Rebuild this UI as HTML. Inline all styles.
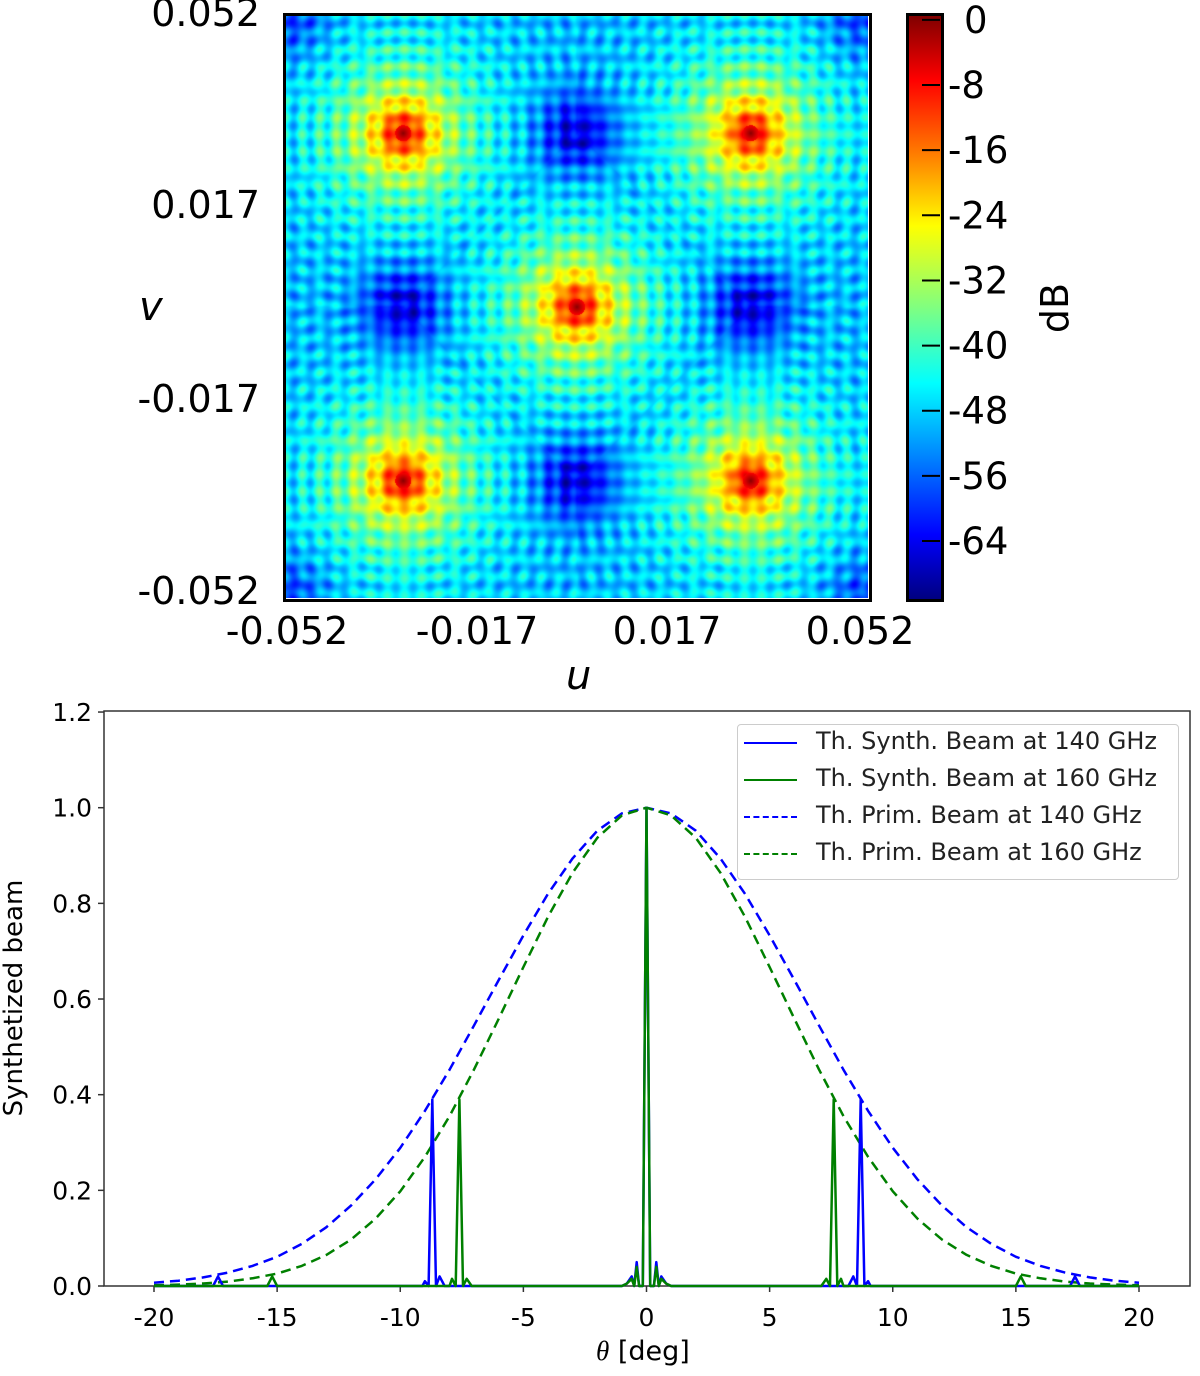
<!DOCTYPE html>
<html><head><meta charset="utf-8">
<style>
body{margin:0;background:#fff;}
#root{position:relative;width:1200px;height:1376px;overflow:hidden;font-family:"DejaVu Sans","Liberation Sans",sans-serif;}
.t{position:absolute;white-space:nowrap;color:#000;}
</style></head>
<body>
<div id="root">
<canvas id="hm" width="583" height="583" style="position:absolute;left:285px;top:15px;"></canvas>
<div style="position:absolute;left:283px;top:13px;width:583px;height:583px;border:3px solid #000;"></div>
<div style="position:absolute;left:906px;top:13px;width:32px;height:583px;border:3px solid #000;background:linear-gradient(to bottom,#800000 0%,#ff0000 11%,#ff8000 24%,#ffff00 36%,#80ff80 50%,#00ffff 63%,#0080ff 76%,#0000ff 89%,#000080 100%);"></div>
<svg id="topsvg" width="1200" height="700" style="position:absolute;left:0;top:0"></svg>
<div class="t" style="left:100px;top:-9px;font-size:38px;width:160px;text-align:right">0.052</div>
<div class="t" style="left:100px;top:183px;font-size:38px;width:160px;text-align:right">0.017</div>
<div class="t" style="left:100px;top:377px;font-size:38px;width:160px;text-align:right">-0.017</div>
<div class="t" style="left:100px;top:569px;font-size:38px;width:160px;text-align:right">-0.052</div>
<div class="t" style="left:202px;top:609px;font-size:38px;width:170px;text-align:center">-0.052</div>
<div class="t" style="left:392px;top:609px;font-size:38px;width:170px;text-align:center">-0.017</div>
<div class="t" style="left:582px;top:609px;font-size:38px;width:170px;text-align:center">0.017</div>
<div class="t" style="left:775px;top:609px;font-size:38px;width:170px;text-align:center">0.052</div>
<div class="t" style="left:566px;top:653px;font-size:40px;font-style:italic">u</div>
<div class="t" style="left:139px;top:284px;font-size:40px;font-style:italic">v</div>
<div class="t" style="left:1030px;top:286px;font-size:38px;transform:rotate(-90deg);transform-origin:center">dB</div>
<svg id="bot" width="1200" height="676" style="position:absolute;left:0;top:700px"></svg>
<div class="t" style="left:-106px;top:983px;font-size:26px;transform:rotate(-90deg);width:240px;text-align:center">Synthetized beam</div>
<div class="t" style="left:596px;top:1336px;font-size:27px"><i style="font-family:'Liberation Serif',serif">θ</i> [deg]</div>
<div style="position:absolute;left:737px;top:724px;width:440px;height:154px;border:1px solid #ccc;border-radius:4px;background:#fff;">
 <div style="position:absolute;left:6px;top:17px;width:53px;height:0;border-top:2.5px solid #0000ff"></div>
 <div class="t" style="left:78px;top:2px;font-size:24px;color:#222">Th. Synth. Beam at 140 GHz</div>
 <div style="position:absolute;left:6px;top:54px;width:53px;height:0;border-top:2.5px solid #008000"></div>
 <div class="t" style="left:78px;top:39px;font-size:24px;color:#222">Th. Synth. Beam at 160 GHz</div>
 <div style="position:absolute;left:6px;top:91px;width:53px;height:0;border-top:2.5px dashed #0000ff"></div>
 <div class="t" style="left:78px;top:76px;font-size:24px;color:#222">Th. Prim. Beam at 140 GHz</div>
 <div style="position:absolute;left:6px;top:128px;width:53px;height:0;border-top:2.5px dashed #008000"></div>
 <div class="t" style="left:78px;top:113px;font-size:24px;color:#222">Th. Prim. Beam at 160 GHz</div>
</div>
</div>
<script>
// ---------- data ----------
const cbTicks = [0,-8,-16,-24,-32,-40,-48,-56,-64];
const peakU = [-0.031,0.031,0,-0.031,0.031];
const peakV = [0.031,0.031,0,-0.031,-0.031];
const nullU = [0,-0.031,0.031,0];
const nullV = [0.031,0,0,-0.031];
const xTicks = [-20,-15,-10,-5,0,5,10,15,20];
const yTicks = [0.0,0.2,0.4,0.6,0.8,1.0,1.2];
const primTheta = [0,1,2,3,4,5,6,7,8,9,10,11,12,13,14,15,16,17,18,19,20];
const prim140 = [1,0.988,0.952,0.894,0.82,0.733,0.64,0.545,0.452,0.366,0.289,0.223,0.168,0.123,0.088,0.061,0.042,0.028,0.018,0.011,0.007];
const prim160 = [1,0.984,0.937,0.864,0.772,0.667,0.559,0.453,0.355,0.27,0.198,0.141,0.097,0.065,0.042,0.026,0.016,0.0093,0.0053,0.0029,0.0015];
const synthTheta140 = [0,0.15,0.3,0.4,0.5,0.6,0.8,1.0,8.2,8.4,8.55,8.7,8.85,9.0,9.1,9.2,17.2,17.4,17.6,20];
const synth140 = [1.0,0.0,0.0,0.05,0.0,0.02,0.005,0,0,0.02,0,0.39,0,0.01,0,0,0,0.02,0,0];
const synthTheta160 = [0,0.15,0.3,0.4,0.5,0.6,0.8,1.0,7.1,7.3,7.45,7.6,7.75,7.9,8.0,8.1,15.0,15.2,15.4,20];
const synth160 = [1.0,0.0,0.0,0.04,0.0,0.015,0.005,0,0,0.015,0,0.39,0,0.015,0,0,0,0.02,0,0];

// ---------- heatmap ----------
function jet(t){t=Math.max(0,Math.min(1,t));
 const r=Math.max(0,Math.min(1,1.5-Math.abs(4*t-3))),g=Math.max(0,Math.min(1,1.5-Math.abs(4*t-2))),b=Math.max(0,Math.min(1,1.5-Math.abs(4*t-1)));
 return [r*255,g*255,b*255];}
const W=583, umin=-0.052, umax=0.052;
const ux=u=>(u-umin)/(umax-umin)*W, vy=v=>(umax-v)/(umax-umin)*W;
const cv=document.getElementById('hm'),ctx=cv.getContext('2d'),img=ctx.createImageData(W,W);
const pxs=peakU.map(ux), pys=peakV.map(vy), nxs=nullU.map(ux), nys=nullV.map(vy);
for(let y=0;y<W;y++)for(let x=0;x<W;x++){
 let dmin=1e9;
 for(let k=0;k<pxs.length;k++){const d=Math.hypot(x-pxs[k],y-pys[k]);if(d<dmin)dmin=d;}
 let db=-48*(1-Math.exp(-dmin/45));
 let dark=0;
 for(let k=0;k<nxs.length;k++){const d=Math.hypot(x-nxs[k],y-nys[k]);dark+=Math.exp(-d*d/(2*28*28));}
 [[0,0],[W,0],[0,W],[W,W]].forEach(c=>{const d=Math.hypot(x-c[0],y-c[1]);dark+=0.6*Math.exp(-d*d/(2*30*30));});
 db-=16*dark;
 const tex=Math.cos(2*Math.PI*x/17)+Math.cos(2*Math.PI*y/17);
 const ring=Math.cos(2*Math.PI*dmin/17);
 if(dmin>8) db+=2.8*tex+2*ring-1.5;
 const t=(db+71)/71.6;const c=jet(t);const i=(y*W+x)*4;
 img.data[i]=c[0];img.data[i+1]=c[1];img.data[i+2]=c[2];img.data[i+3]=255;}
ctx.putImageData(img,0,0);

const NS='http://www.w3.org/2000/svg';
function mk(svg,tag,at){const e=document.createElementNS(NS,tag);for(const k in at)e.setAttribute(k,at[k]);svg.appendChild(e);return e;}
const topSvg=document.getElementById('topsvg');
const cbY=d=>15+(0.6-d)/71.6*583;
cbTicks.forEach(d=>{
 const y=cbY(d);
 const l=mk(topSvg,'line',{x1:922,x2:940,y1:y,y2:y,stroke:'#000','stroke-width':2});
 
 
 const t=mk(topSvg,'text',{x:d===0?964:948,y:y+13,'font-size':37,'font-family':'DejaVu Sans, Liberation Sans, sans-serif'});
 t.textContent=String(d);
 
 
});

// ---------- line chart ----------
const bot=document.getElementById('bot');
const X=th=>154+(th+20)*24.625, Y=v=>586-v*478.3;
mk(bot,'rect',{x:104,y:11,width:1086,height:575,fill:'none',stroke:'#333','stroke-width':1.5});
const F='DejaVu Sans, Liberation Sans, sans-serif';
xTicks.forEach(v=>{
 const l=mk(bot,'line',{x1:X(v),x2:X(v),y1:586,y2:592,stroke:'#333','stroke-width':1.5});
 
 
 const t=mk(bot,'text',{x:X(v),y:626,'font-size':25,'text-anchor':'middle','font-family':F});
 t.textContent=String(v);
 
 
});
yTicks.forEach(v=>{
 const l=mk(bot,'line',{x1:98,x2:104,y1:Y(v),y2:Y(v),stroke:'#333','stroke-width':1.5});
 
 
 const t=mk(bot,'text',{x:92,y:Y(v)+9,'font-size':25,'text-anchor':'end','font-family':F});
 t.textContent=v.toFixed(1);
 
 
});
function sym(th,vals){const a=[];for(let i=th.length-1;i>0;i--)a.push([-th[i],vals[i]]);for(let i=0;i<th.length;i++)a.push([th[i],vals[i]]);return a;}
function path(pts,color,dash,name){
 const d=pts.map((p,i)=>(i?'L':'M')+X(p[0]).toFixed(1)+','+Y(p[1]).toFixed(1)).join(' ');
 const p=mk(bot,'path',{d:d,fill:'none',stroke:color,'stroke-width':2.5,'stroke-dasharray':dash||'none','stroke-linejoin':'round'});
 
 
}
path(sym(primTheta,prim140),'#0000ff','10,6','prim-beam-140');
path(sym(primTheta,prim160),'#008000','10,6','prim-beam-160');
path(sym(synthTheta140,synth140),'#0000ff',null,'synth-beam-140');
path(sym(synthTheta160,synth160),'#008000',null,'synth-beam-160');
</script>
</body></html>
